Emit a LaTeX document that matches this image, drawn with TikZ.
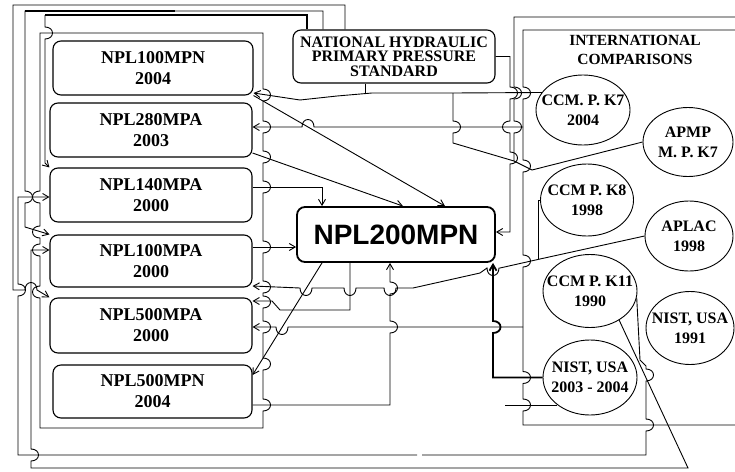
\documentclass[tikz,border=0pt]{standalone}
\usepackage{fontspec}
\setmainfont{Liberation Serif}
\newfontfamily\sansb{Liberation Sans}
\usetikzlibrary{shapes.geometric,arrows.meta}
% hops: vertical down / up, horizontal right / left ; args: x, y, bulge
\newcommand\hopD[3]{-- ({#1},{#2-6}) .. controls ({#1+(#3)},{#2-6}) and ({#1+(#3)},{#2+6}) .. ({#1},{#2+6})}
\newcommand\hopU[3]{-- ({#1},{#2+6}) .. controls ({#1+(#3)},{#2+6}) and ({#1+(#3)},{#2-6}) .. ({#1},{#2-6})}
\newcommand\hopR[3]{-- ({#1-6},{#2}) .. controls ({#1-6},{#2+(#3)}) and ({#1+6},{#2+(#3)}) .. ({#1+6},{#2})}
\newcommand\hopL[3]{-- ({#1+6},{#2}) .. controls ({#1+6},{#2+(#3)}) and ({#1-6},{#2+(#3)}) .. ({#1-6},{#2})}
\tikzset{
  box/.style={draw, rounded corners=8pt, line width=1.1pt, minimum width=202pt, minimum height=54pt,
    inner sep=0pt, align=center, font=\fontsize{18}{21}\selectfont\bfseries},
  ell/.style={draw, ellipse, line width=0.9pt, inner sep=0pt},
  etxt/.style={align=center, inner sep=0pt, font=\fontsize{16}{20}\selectfont\bfseries},
  ln/.style={line width=0.9pt},
  tk/.style={line width=1.8pt},
  ar/.style={-{Straight Barb[length=6pt,width=7pt]}},
}
\begin{document}
\begin{tikzpicture}[x=1pt,y=-1pt]
\useasboundingbox (0,0) rectangle (735,471);
% ---------- nodes
\node[box, minimum width=200pt] (b1) at (153,68) {NPL100MPN\\2004};
\node[box] (b2) at (151,130) {NPL280MPA\\2003};
\node[box] (b3) at (151,195) {NPL140MPA\\2000};
\node[box, minimum height=52pt] (b4) at (151,261) {NPL100MPA\\2000};
\node[box, minimum height=55pt] (b5) at (151,325.5) {NPL500MPA\\2000};
\node[box, minimum width=199pt, minimum height=53pt] (b6) at (152.5,391.5) {NPL500MPN\\2004};
\node[box, minimum width=202pt, minimum height=53pt, font=\fontsize{16}{14.5}\selectfont\bfseries] (nh) at (394,56.5) {NATIONAL HYDRAULIC\\PRIMARY PRESSURE\\STANDARD};
\node[box, line width=1.8pt, minimum width=198pt, minimum height=55pt, font=\sansb\bfseries\fontsize{28}{30}\selectfont] (main) at (396,234.5) {NPL200MPN};
\node[ell, minimum width=94pt, minimum height=70pt] (e1) at (583,110) {};
\node[etxt] at (e1) {CCM. P. K7\\2004};
\node[ell, minimum width=90pt, minimum height=69pt] (e2) at (688,142) {};
\node[etxt] at (e2) {APMP\\M. P. K7};
\node[ell, minimum width=93pt, minimum height=72pt] (e3) at (587,200) {};
\node[etxt] at (e3) {CCM P. K8\\1998};
\node[ell, minimum width=88pt, minimum height=70pt] (e4) at (689,236) {};
\node[etxt] at (e4) {APLAC\\1998};
\node[ell, minimum width=94pt, minimum height=73pt] (e5) at (590,291) {};
\node[etxt] at (e5) {CCM P. K11\\1990};
\node[ell, minimum width=88pt, minimum height=73pt] (e6) at (690,328) {};
\node[etxt] at (e6) {NIST, USA\\1991};
\node[ell, minimum width=94pt, minimum height=75pt] (e7) at (590,377.5) {};
\node[etxt] at (e7) {NIST, USA\\2003 - 2004};
\node[etxt, font=\fontsize{15.5}{19}\selectfont\bfseries] (ic) at (635,50) {INTERNATIONAL\\COMPARISONS};
% ---------- frames
\draw[ln] (40,33) -- (263,33) \hopD{263}{95}{10} \hopD{263}{127}{10} \hopD{263}{157}{10} \hopD{263}{187}{10}
  \hopD{263}{247}{10} \hopD{263}{287}{10} \hopD{263}{302}{10} \hopD{263}{327}{10} \hopD{263}{364}{10}
  \hopD{263}{405}{10} -- (263,428) -- (40,428) \hopU{40}{292}{-10} \hopU{40}{250}{-10} \hopU{40}{232}{-10}
  \hopU{40}{197}{-10} -- cycle;
\draw[ln] (735,30) -- (523,30) \hopD{523}{93}{10} \hopD{523}{166}{10} \hopD{523}{261}{10}
  \hopD{523}{377.5}{10} \hopD{523}{405}{10} -- (523,425) -- (735,425);
% ---------- left loops
\draw[ln, ar] (nh.north -| 345,0) -- (345,5) -- (13,5) -- (13,290) \hopR{31}{290}{-10}
  -- (b5.north west);
\draw[ln, ar] (nh.north -| 323,0) -- (323,11) -- (25,11) \hopD{25}{197}{10} -- (25,227) -- (b4.north west);
\draw[tk] (25,11) -- (175,11);
\draw[tk] (nh.north -| 307,0) -- (307,15) -- (45,15);
\draw[ln, ar] (45,15) \hopD{45}{33}{10} -- (45,163) -- (b3.north west);
\draw[ln, ar] (e5.-8) -- (640,360) -- (646,366) \hopD{646}{375}{10} \hopD{646}{425}{10} -- (646,455)
  -- (422,455) (417,455) -- (18,455) \hopU{18}{290}{10} -- (18,197) -- (b3.west |- 0,197);
\draw[ln, ar] (e5.-45) -- (688,468) -- (31,468) \hopU{31}{455}{10} -- (31,250) -- (b4.west |- 0,250);
% ---------- NHPPS
\draw[ln, ar] (nh.east) -- (510,56.5) \hopD{510}{93}{10} \hopD{510}{127}{-10} \hopD{510}{158}{10}
  -- (510,232) -- (main.east |- 0,232);
\draw[ln] (nh.south -| 365,0) -- (365,93);
% ---------- CCM.P.K7 / APMP
\draw[ln, ar] (e1.157) -- (453,93) -- (372,93) -- (337,96) -- (300,100) -- (b1.east |- 0,93);
\draw[ln] (e2.west) -- (532,170) -- (514,161) -- (453,143) \hopU{453}{127}{10} -- (453,93);
\draw[ln] (514,161) \hopU{514}{127}{10} \hopU{514}{93}{10} -- (514,17) -- (735,17);
\draw[ln, ar] (523,127) \hopL{308}{127}{-10} -- (b2.east |- 0,127);
% ---------- into / out of NPL200MPN
\draw[ln, ar] (b1.south east) -- (main.north -| 445,0);
\draw[ln, ar] (b2.east |- 0,153) -- (main.north -| 403,0);
\draw[ln, ar] (b3.east |- 0,187) -- (322,187) -- (main.north -| 322,0);
\draw[ln, ar] (b4.east |- 0,247) -- (main.west |- 0,247);
\draw[ln, ar] (main.south -| 322,0) -- (b6.east |- 0,375);
\draw[ln, ar] (main.south -| 350,0) -- (350,310) -- (280,310) -- (272,301) -- (b5.east |- 0,301);
\draw[ln, ar] (b6.east |- 0,405) -- (390,405) \hopU{390}{327}{10} \hopU{390}{288}{10} -- (main.south -| 390,0);
\draw[tk, ar] (e7.west) -- (493,377.5) \hopU{493}{327}{10} -- (main.south -| 493,0);
\draw[ln, ar] (e4.west) -- (540,259) -- (500,268) \hopL{493}{268}{10} -- (480,273) -- (413,288)
  \hopL{390}{288}{10} \hopL{350}{288}{10} \hopL{306}{288}{10} -- (b4.east |- 0,286);
\draw[ln] (e3.west) -- (538,200) -- (538,259);
\draw[ln, ar] (523,327) \hopL{282}{327}{10} -- (b5.east |- 0,327);
\coordinate (n405) at (505,405);
\draw[ln] (n405) -- (e7.-140 |- 0,405);
\end{tikzpicture}
\end{document}
